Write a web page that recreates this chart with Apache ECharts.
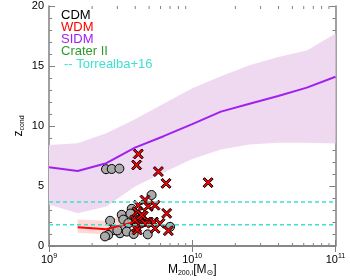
<!DOCTYPE html>
<html>
<head>
<meta charset="utf-8">
<script src="https://cdn.jsdelivr.net/npm/echarts@6/dist/echarts.min.js"></script>
<style>
  html, body { margin: 0; padding: 0; background: #fff; }
  #chart { width: 350px; height: 280px; }
</style>
</head>
<body>
<div id="chart"></div>
<script>
// mass grid of the model curves (0.2 dex steps)
const massGrid = [1e9, 1.585e9, 2.512e9, 3.981e9, 6.31e9, 1e10, 1.585e10, 2.512e10, 3.981e10, 6.31e10, 1e11];
const sidmMedian = [6.56, 6.25, 6.9, 8.2, 9.15, 10.15, 11.2, 11.85, 12.5, 13.2, 14.1];
const sidmUpper = [8.42, 8.56, 9.39, 10.56, 11.86, 13.15, 14.14, 15.06, 15.75, 16.3, 17.7];
const sidmLower = [3.45, 2.72, 3.3, 4.95, 6.13, 7.25, 8.05, 8.45, 8.6, 8.6, 8.55];

const wdmMass = [1.585e9, 2.512e9, 3.8e9];
const wdmMedian = [1.56, 1.4, 1.95];
const wdmUpper = [2.2, 2.1, 2.9];
const wdmLower = [1.1, 0.95, 1.5];

// Torrealba+16 range for Crater II
const torrealbaZ = [1.78, 3.67];

// CDM haloes (grey circles)
const cdmPoints = [
  [2.5e9, 6.4], [2.74e9, 6.42], [3.1e9, 6.45],
  [5.2e9, 4.25],
  [2.67e9, 2.1], [3.22e9, 2.6], [3.3e9, 2.2], [2.81e9, 1.33], [2.59e9, 0.92],
  [2.46e9, 0.8], [3.13e9, 1.06], [3.4e9, 1.47], [3.58e9, 1.9], [3.49e9, 1.2],
  [3.78e9, 3.1], [4.89e9, 0.97], [7.0e9, 1.6], [4.0e9, 2.4], [4.4e9, 1.9],
  [3.9e9, 1.0], [3.0e9, 1.3], [3.7e9, 2.7]
];

// WDM haloes (red crosses)
const wdmPoints = [
  [4.2e9, 7.67], [4.09e9, 6.75], [5.8e9, 6.2], [6.56e9, 5.22], [1.29e10, 5.28],
  [4.68e9, 3.83], [4.2e9, 3.4], [4.93e9, 3.3], [5.5e9, 3.4], [6.63e9, 2.72],
  [4.13e9, 2.86], [4.27e9, 2.22], [4.09e9, 1.56], [4.13e9, 1.33], [4.93e9, 2.0],
  [5.35e9, 2.0], [5.96e9, 1.89], [5.5e9, 1.47], [6.81e9, 1.28], [4.68e9, 1.9],
  [4.55e9, 2.5], [3.98e9, 2.17], [4.43e9, 2.58]
];

// minor ticks of the log axis
const minorTicksX = [2e9, 3e9, 4e9, 5e9, 6e9, 7e9, 8e9, 9e9, 2e10, 3e10, 4e10, 5e10, 6e10, 7e10, 8e10, 9e10];

const axisColor = "#808080";
const fontFamily = "Liberation Sans, Arial, sans-serif";
const crossPath = "path://M0,1.5 L1.5,0 L5,3.5 L8.5,0 L10,1.5 L6.5,5 L10,8.5 L8.5,10 L5,6.5 L1.5,10 L0,8.5 L3.5,5 Z";

let chart = echarts.init(document.getElementById("chart"));

// filled band between lower and upper arrays
function bandSeries(xs, lo, hi, color) {
  return {
    type: "custom",
    silent: true,
    data: [0],
    renderItem: function (params, api) {
      let pts = [];
      for (let i = 0; i < xs.length; i++) pts.push(api.coord([xs[i], hi[i]]));
      for (let i = xs.length - 1; i >= 0; i--) pts.push(api.coord([xs[i], lo[i]]));
      return {
        type: "polygon",
        shape: { points: pts },
        style: { fill: color },
      };
    },
  };
}

function zipXY(xs, ys) {
  return xs.map((x, i) => [x, ys[i]]);
}

// rich styles: main text + sub / superscript
let nameRich = {
  a: { fontSize: 12, fontFamily: fontFamily, color: "#000", lineHeight: 15 },
  s: { fontSize: 7, fontFamily: fontFamily, color: "#000", lineHeight: 6, verticalAlign: "bottom" },
  o: { fontSize: 8, fontFamily: "DejaVu Sans", color: "#000", lineHeight: 6, verticalAlign: "bottom" },
};

let logLabel = {
  formatter: function (v) {
    return "{b|10}{e|" + Math.round(Math.log10(v)) + "}";
  },
  margin: 7,
  rich: {
    b: { fontSize: 11, fontFamily: fontFamily, color: "#000", lineHeight: 14 },
    e: { fontSize: 7, fontFamily: fontFamily, color: "#000", lineHeight: 7, verticalAlign: "top" },
  },
};

let xCommon = {
  type: "log",
  logBase: 10,
  min: 1e9,
  max: 1e11,
  axisLine: { lineStyle: { color: axisColor, width: 1.5 } },
  axisTick: { inside: true, length: 6, lineStyle: { color: axisColor } },
  splitLine: { show: false },
};

let yCommon = {
  type: "value",
  min: 0,
  max: 20,
  interval: 5,
  axisLine: { show: true, lineStyle: { color: axisColor, width: 1.5 } },
  axisTick: { show: true, inside: true, length: 6, lineStyle: { color: axisColor } },
  minorTick: { show: true, splitNumber: 5, length: 3, lineStyle: { color: axisColor } },
  splitLine: { show: false },
};

let option = {
  animation: false,
  grid: { left: 49, right: 14.5, top: 6, bottom: 34, outerBoundsMode: "none" },
  xAxis: [
    Object.assign({}, xCommon, {
      position: "bottom",
      axisLabel: logLabel,
      name: "{a|M}{s|200,i}{a|[M}{o|⊙}{a|]}",
      nameLocation: "middle",
      nameGap: 16,
      nameMoveOverlap: false,
      nameTextStyle: { rich: nameRich },
    }),
    Object.assign({}, xCommon, { position: "top", axisLabel: { show: false } }),
  ],
  yAxis: [
    Object.assign({}, yCommon, {
      position: "left",
      axisLabel: { color: "#000", fontSize: 11, fontFamily: fontFamily, margin: 5 },
      name: "{a|z}{s|cond}",
      nameLocation: "middle",
      nameRotate: 90,
      nameGap: 23,
      nameMoveOverlap: false,
      nameTextStyle: { rich: nameRich },
    }),
    Object.assign({}, yCommon, { position: "right", axisLabel: { show: false } }),
  ],
  graphic: [
    { type: "text", x: 61, y: 15, style: { text: "CDM", fill: "#000", font: "13px " + fontFamily, verticalAlign: "middle" } },
    { type: "text", x: 61, y: 27.3, style: { text: "WDM", fill: "#ff0000", font: "13px " + fontFamily, verticalAlign: "middle" } },
    { type: "text", x: 61, y: 39.6, style: { text: "SIDM", fill: "#a020f0", font: "13px " + fontFamily, verticalAlign: "middle" } },
    { type: "text", x: 61, y: 51.9, style: { text: "Crater II", fill: "#2e9a2e", font: "13px " + fontFamily, verticalAlign: "middle" } },
    { type: "text", x: 64, y: 64.2, style: { text: "-- Torrealba+16", fill: "#40e0d0", font: "13px " + fontFamily, verticalAlign: "middle" } },
  ],
  series: [
    bandSeries(massGrid, sidmLower, sidmUpper, "#efd9f1"),
    bandSeries(wdmMass, wdmLower, wdmUpper, "#fcd9d6"),
    {
      type: "line",
      data: zipXY(massGrid, sidmMedian),
      showSymbol: false,
      lineStyle: { color: "#a020f0", width: 2 },
    },
    {
      type: "line",
      data: zipXY(wdmMass, wdmMedian),
      showSymbol: false,
      lineStyle: { color: "#ff0000", width: 2 },
    },
    // Torrealba+16 dashed limits
    ...torrealbaZ.map((z) => ({
      type: "line",
      data: [[1e9, z], [1e11, z]],
      showSymbol: false,
      lineStyle: { color: "#40e0d0", width: 1.5, type: [4, 3] },
    })),
    {
      type: "scatter",
      data: cdmPoints,
      symbol: "circle",
      symbolSize: 9,
      itemStyle: { color: "#aaaaaa", borderColor: "#000", borderWidth: 1, opacity: 1 },
    },
    {
      type: "scatter",
      data: wdmPoints,
      symbol: crossPath,
      symbolSize: 10,
      itemStyle: { color: "#ff0000", borderColor: "#000", borderWidth: 1, opacity: 1 },
    },
    // minor ticks of bottom and top log axes
    {
      type: "custom",
      silent: true,
      clip: false,
      data: minorTicksX,
      renderItem: function (params, api) {
        let m = api.value(0);
        let b = api.coord([m, 0]);
        let t = api.coord([m, 20]);
        let st = { stroke: axisColor, lineWidth: 1 };
        return {
          type: "group",
          children: [
            { type: "line", shape: { x1: b[0], y1: b[1], x2: b[0], y2: b[1] - 3 }, style: st },
            { type: "line", shape: { x1: t[0], y1: t[1], x2: t[0], y2: t[1] + 3 }, style: st },
          ],
        };
      },
      encode: { x: 0 },
    },
  ],
};

chart.setOption(option);
</script>
</body>
</html>
